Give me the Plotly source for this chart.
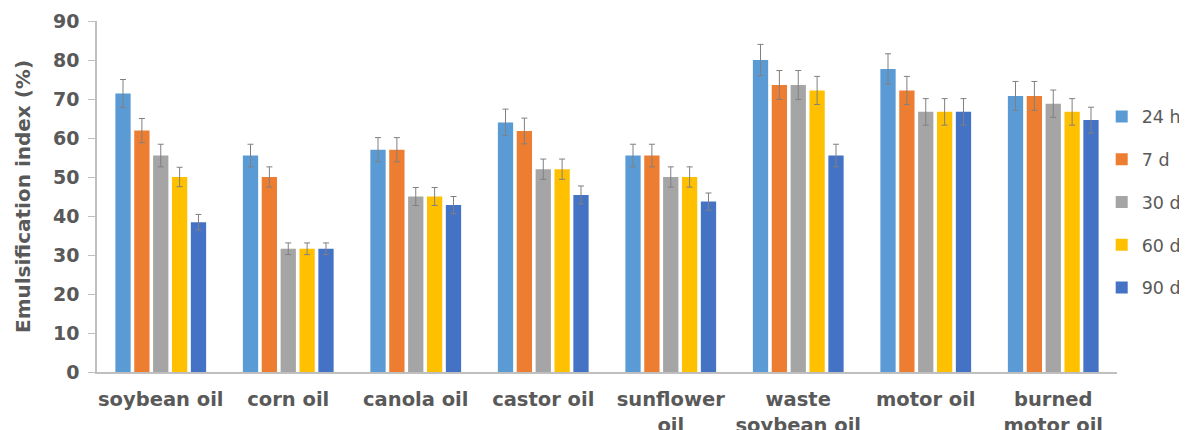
import plotly.graph_objects as go

categories = ["soybean oil", "corn oil", "canola oil", "castor oil",
              "sunflower<br>oil", "waste<br>soybean oil", "motor oil", "burned<br>motor oil"]

series_names = ["24 h", "7 d", "30 d", "60 d", "90 d"]
colors = ["#5B9BD5", "#ED7D31", "#A5A5A5", "#FFC000", "#4472C4"]

v_24h = [71.4, 55.5, 57.0, 64.0, 55.5, 80.0, 77.7, 70.8]
v_7d = [61.9, 50.0, 57.0, 61.8, 55.5, 73.6, 72.2, 70.8]
v_30d = [55.5, 31.6, 45.0, 52.0, 50.0, 73.6, 66.7, 68.8]
v_60d = [50.0, 31.6, 45.0, 52.0, 50.0, 72.2, 66.7, 66.7]
v_90d = [38.4, 31.6, 42.8, 45.4, 43.7, 55.5, 66.7, 64.6]

e_24h = [3.6, 2.9, 3.1, 3.4, 2.9, 4.0, 3.9, 3.7]
e_7d = [3.1, 2.6, 3.1, 3.3, 2.9, 3.7, 3.6, 3.7]
e_30d = [2.9, 1.5, 2.3, 2.6, 2.6, 3.7, 3.4, 3.5]
e_60d = [2.5, 1.5, 2.3, 2.6, 2.6, 3.6, 3.4, 3.4]
e_90d = [2.0, 1.5, 2.2, 2.3, 2.2, 2.9, 3.4, 3.3]

values = [v_24h, v_7d, v_30d, v_60d, v_90d]
errors = [e_24h, e_7d, e_30d, e_60d, e_90d]

FONT = "DejaVu Sans"
TXT = "#595959"

fig = go.Figure()
for name, col, vals, errs in zip(series_names, colors, values, errors):
    fig.add_trace(go.Bar(
        x=categories, y=vals, name=name, legendgroup=name,
        marker=dict(color=col, line=dict(width=0)),
        error_y=dict(type="data", array=errs, visible=True,
                     color="#808080", thickness=1, width=3),
    ))

fig.update_layout(
    width=1187, height=430,
    paper_bgcolor="white", plot_bgcolor="white",
    margin=dict(l=89, r=78, t=13, b=66, autoexpand=False),
    barmode="group", bargap=0.26, bargroupgap=0.19,
    font=dict(family=FONT, color=TXT),
    showlegend=True,
    legend=dict(
        x=0.985, xanchor="left", y=0.484, yanchor="middle",
        font=dict(family=FONT, size=17.5, color=TXT),
        tracegroupgap=17, traceorder="grouped", itemwidth=30,
        bgcolor="rgba(0,0,0,0)",
    ),
    xaxis=dict(
        showline=True, linecolor="#BFBFBF", linewidth=1.5,
        ticks="", showgrid=False, automargin=False,
        tickfont=dict(family=FONT, size=19.5, color=TXT, weight="bold"),
        ticklabelstandoff=9,
    ),
    yaxis=dict(
        range=[0, 90], dtick=10, showline=True, linecolor="#BFBFBF", linewidth=1.5,
        ticks="outside", ticklen=7, tickcolor="#BFBFBF", showgrid=False,
        zeroline=False, automargin=False, ticklabelstandoff=5,
        tickfont=dict(family=FONT, size=19, color=TXT, weight="bold"),
        title=dict(text="Emulsification index (%)",
                   font=dict(family=FONT, size=20, color=TXT, weight="bold"),
                   standoff=17),
    ),
)

fig.write_html("out.html")
